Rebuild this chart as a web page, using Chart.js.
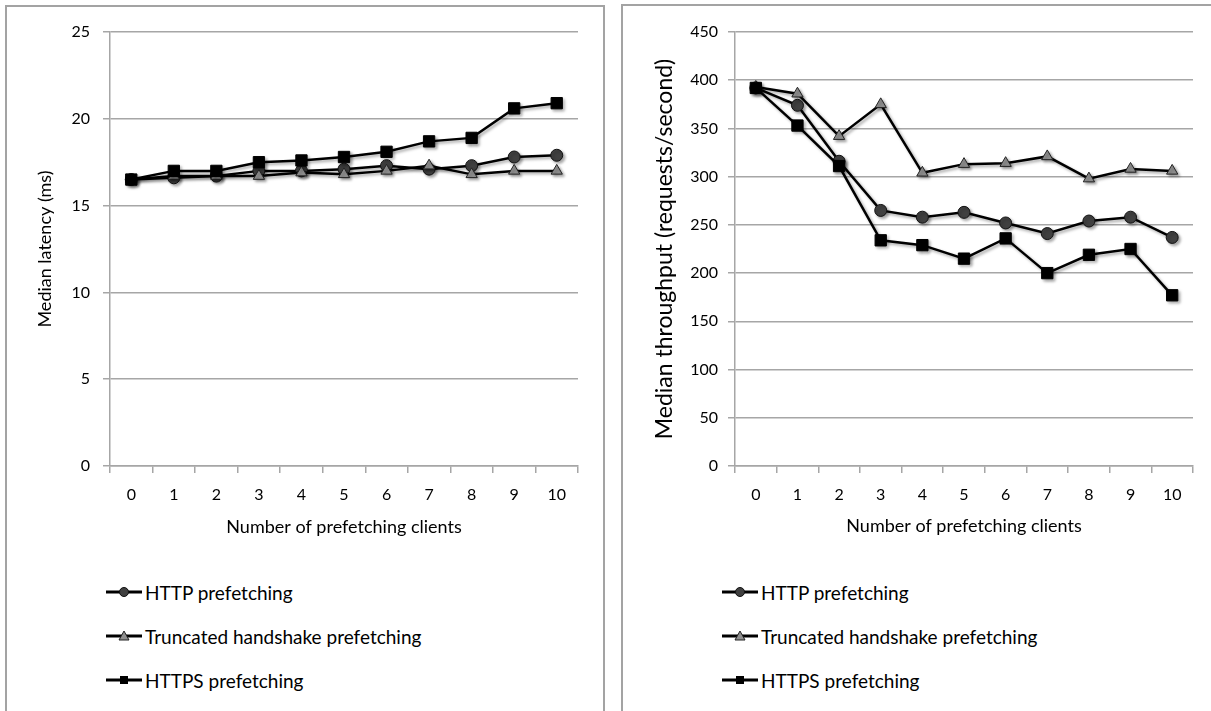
<!DOCTYPE html>
<html>
<head>
<meta charset="utf-8">
<script src="https://cdn.jsdelivr.net/npm/chart.js@4/dist/chart.umd.min.js"></script>
<style>
    body { margin: 0; width: 1211px; height: 711px; background: #fff; overflow: hidden; font-family: Lato, sans-serif; position: relative; }
    .panel { position: absolute; border: 2px solid #a3a3a3; border-bottom: none; box-sizing: border-box; }
    .lienzo { position: absolute; }
    .leyenda { position: absolute; font-size: 19px; color: #000; }
    .item { position: absolute; white-space: nowrap; display: flex; align-items: center; height: 30px; }
    .item svg { margin-right: 3px; }
</style>
</head>
<body>
<div class="panel" style="left:5px; top:5px; width:600px; height:720px;"></div>
<div class="panel" style="left:621px; top:4px; width:600px; height:720px;"></div>
<div class="lienzo" style="left:6px; top:6px; width:597px; height:540px;"><canvas id="grafica-latencia"></canvas></div>
<div class="lienzo" style="left:622px; top:5px; width:589px; height:540px;"><canvas id="grafica-rendimiento"></canvas></div>
<div class="leyenda" id="leyenda-latencia" style="left:106px; top:0;"></div>
<div class="leyenda" id="leyenda-rendimiento" style="left:722px; top:0;"></div>

<script>
// Datos
const clientes = ['0', '1', '2', '3', '4', '5', '6', '7', '8', '9', '10'];
const nombresSeries = ['HTTP prefetching', 'Truncated handshake prefetching', 'HTTPS prefetching'];

const latenciaHttp = [16.5, 16.6, 16.7, 17.0, 17.0, 17.1, 17.3, 17.1, 17.3, 17.8, 17.9];
const latenciaTruncado = [16.5, 16.7, 16.7, 16.7, 16.9, 16.8, 17.0, 17.3, 16.8, 17.0, 17.0];
const latenciaHttps = [16.5, 17.0, 17.0, 17.5, 17.6, 17.8, 18.1, 18.7, 18.9, 20.6, 20.9];

const rendimientoHttp = [392, 374, 316, 265, 258, 263, 252, 241, 254, 258, 237];
const rendimientoTruncado = [393, 386, 342, 375, 304, 313, 314, 321, 298, 308, 306];
const rendimientoHttps = [392, 353, 311, 234, 229, 215, 236, 200, 219, 225, 177];

const ticksLatencia = [0, 5, 10, 15, 20, 25];
const ticksRendimiento = [0, 50, 100, 150, 200, 250, 300, 350, 400, 450];

// Estilo de cada serie (círculo, triángulo, cuadrado)
const estilos = [
    { pointStyle: 'circle', radio: 6, relleno: '#404040', borde: '#111' },
    { pointStyle: 'triangle', radio: 6.5, relleno: '#8f8f8f', borde: '#222' },
    { pointStyle: 'rect', radio: 8, relleno: '#000', borde: '#000' },
];

const GRIS = '#a6a6a6';

// Sombra tipo Excel debajo de líneas y marcadores
const sombra = {
    id: 'sombra',
    beforeDatasetsDraw(chart) {
        const ctx = chart.ctx;
        ctx.save();
        ctx.shadowColor = 'rgba(0,0,0,0.35)';
        ctx.shadowBlur = 3;
        ctx.shadowOffsetX = 2;
        ctx.shadowOffsetY = 2;
    },
    afterDatasetsDraw(chart) {
        chart.ctx.restore();
    },
};

function crearSeries(valores) {
    return valores.map((datos, i) => ({
        label: nombresSeries[i],
        data: datos,
        borderColor: '#000',
        borderWidth: 2.5,
        pointStyle: estilos[i].pointStyle,
        pointRadius: estilos[i].radio,
        pointBackgroundColor: estilos[i].relleno,
        pointBorderColor: estilos[i].borde,
        pointBorderWidth: 1,
        tension: 0,
        clip: false,
        order: 3 - i,
    }));
}

function crearGrafica(id, series, ticks, tituloY, caja) {
    const ctx = document.getElementById(id).getContext('2d');
    return new Chart(ctx, {
        type: 'line',
        data: { labels: clientes, datasets: crearSeries(series) },
        plugins: [sombra],
        options: {
            responsive: true,
            maintainAspectRatio: false,
            animation: false,
            events: [],
            layout: { padding: { left: 0, top: caja.arriba, right: caja.derecha, bottom: 0 } },
            plugins: { legend: { display: false }, tooltip: { enabled: false } },
            scales: {
                x: {
                    type: 'category',
                    offset: true,
                    grid: { offset: true, drawOnChartArea: false, color: GRIS, lineWidth: 1.5, tickLength: 7 },
                    border: { color: GRIS, width: 1.5 },
                    ticks: { color: '#000', font: { family: 'Lato', size: 16 }, padding: 12, maxRotation: 0 },
                    title: { display: true, text: 'Number of prefetching clients', color: '#000', font: { family: 'Lato', size: 18 }, padding: { bottom: 8 } },
                    afterFit: escala => { escala.height = caja.altoX; },
                },
                y: {
                    min: ticks[0],
                    max: ticks[ticks.length - 1],
                    afterBuildTicks: escala => { escala.ticks = ticks.map(v => ({ value: v })); },
                    grid: { color: GRIS, lineWidth: 1.5, tickLength: 7 },
                    border: { color: GRIS, width: 1.5 },
                    ticks: { color: '#000', font: { family: 'Lato', size: 16 }, padding: caja.padTicks },
                    title: { display: true, text: tituloY, color: '#000', font: { family: 'Lato', size: caja.letraTitulo }, padding: { top: caja.padTitulo } },
                    afterFit: escala => { escala.width = caja.anchoY; },
                },
            },
        },
    });
}

// Leyenda vertical en HTML, debajo de cada gráfica
function iconoSerie(i) {
    const e = estilos[i];
    let marca = '';
    if (e.pointStyle === 'circle') {
        marca = `<circle cx="18" cy="8" r="4.5" fill="${e.relleno}" stroke="${e.borde}" stroke-width="1"/>`;
    } else if (e.pointStyle === 'triangle') {
        marca = `<polygon points="18,3 23,12 13,12" fill="${e.relleno}" stroke="${e.borde}" stroke-width="1"/>`;
    } else {
        marca = `<rect x="14" y="4" width="8" height="8" fill="${e.relleno}"/>`;
    }
    return `<svg width="36" height="16" viewBox="0 0 36 16"><line x1="0" y1="8" x2="36" y2="8" stroke="#000" stroke-width="3"/>${marca}</svg>`;
}

function cargarLeyenda(id) {
    const cont = document.getElementById(id);
    const filas = [592, 636, 680];
    nombresSeries.forEach((nombre, i) => {
        const item = document.createElement('div');
        item.className = 'item';
        item.style.top = (filas[i] - 15) + 'px';
        item.innerHTML = iconoSerie(i) + `<span>${nombre}</span>`;
        cont.appendChild(item);
    });
}

document.addEventListener('DOMContentLoaded', () => {
    crearGrafica('grafica-latencia', [latenciaHttp, latenciaTruncado, latenciaHttps], ticksLatencia,
        'Median latency (ms)',
        { arriba: 26, derecha: 25, altoX: 80, anchoY: 104, padTicks: 13, padTitulo: 28, letraTitulo: 18 });
    crearGrafica('grafica-rendimiento', [rendimientoHttp, rendimientoTruncado, rendimientoHttps], ticksRendimiento,
        'Median throughput (requests/second)',
        { arriba: 27, derecha: 18, altoX: 79, anchoY: 113, padTicks: 10, padTitulo: 29, letraTitulo: 23 });
    cargarLeyenda('leyenda-latencia');
    cargarLeyenda('leyenda-rendimiento');
});
</script>
</body>
</html>
